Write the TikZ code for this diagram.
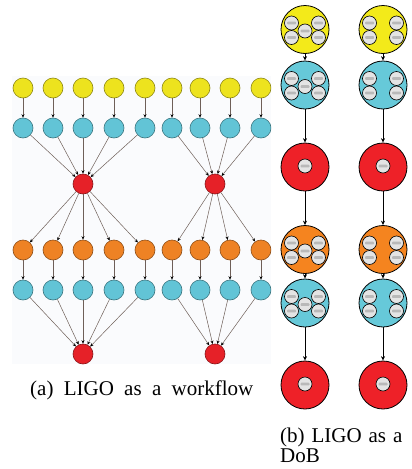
\documentclass[tikz,border=0pt]{standalone}
\usepackage{fontspec}
\setmainfont{Liberation Serif}
\usetikzlibrary{arrows.meta}
\definecolor{lbg}{HTML}{FAFBFD}
\definecolor{lyel}{HTML}{EDE31E}
\definecolor{lcyan}{HTML}{62C4D6}
\definecolor{lorange}{HTML}{EE8224}
\definecolor{lred}{HTML}{E62128}
\definecolor{ledgec}{HTML}{6E5F58}
\definecolor{ryel}{HTML}{F3EA1A}
\definecolor{rcyan}{HTML}{66C9D9}
\definecolor{rorange}{HTML}{F5841F}
\definecolor{rred}{HTML}{EE2128}
\definecolor{chipgray}{HTML}{E4E4E4}
\newcommand\dobchip[2]{%
  \draw[chipcircle] (#1,#2) circle[radius=7];
  \fill[gray!55, rounded corners=0.8pt] (#1-4.5,#2-1.3) rectangle (#1+4.5,#2+1.3);}
\begin{document}
\begin{tikzpicture}[x=1pt,y=-1pt,
  lnode/.style={circle, minimum size=20pt, inner sep=0pt, line width=0.6pt, fill=#1, draw=#1!60!black},
  ledge/.style={draw=ledgec, line width=0.5pt, -{Stealth[length=3.5pt,width=3pt,color=black]}},
  rnode/.style={circle, minimum size=48pt, inner sep=0pt, line width=0.8pt, fill=#1, draw=black},
  redge/.style={draw=black, line width=0.7pt, -{Stealth[length=4.5pt,width=4pt]}},
  chipcircle/.style={fill=chipgray, draw=black, line width=0.6pt},
  captext/.style={anchor=base west, inner sep=0pt, font=\fontsize{21}{21}\selectfont}]
\useasboundingbox (0,0) rectangle (412,469);

% ---------- (a) LIGO as a workflow ----------
\begin{scope}
\clip (12,76) rectangle (271,364);
\fill[lbg] (12,76) rectangle (271,364);
\foreach \i/\x in {1/23,2/53,3/83,4/114,5/145,6/172,7/200,8/230,9/261}{
  \node[lnode=lyel] (y\i) at (\x,88) {};
  \node[lnode=lcyan] (c\i) at (\x,128) {};
  \node[lnode=lorange] (o\i) at (\x,250) {};
  \node[lnode=lcyan] (d\i) at (\x,290) {};
}
\node[lnode=lred] (r1) at (83,184) {};
\node[lnode=lred] (r2) at (215,184) {};
\node[lnode=lred] (b1) at (83,354) {};
\node[lnode=lred] (b2) at (215,354) {};
\foreach \i in {1,...,9}{
  \draw[ledge] (y\i) -- (c\i);
  \draw[ledge] (o\i) -- (d\i);
}
\foreach \i in {1,...,5}{
  \draw[ledge] (c\i) -- (r1);
  \draw[ledge] (r1) -- (o\i);
  \draw[ledge] (d\i) -- (b1);
}
\foreach \i in {6,...,9}{
  \draw[ledge] (c\i) -- (r2);
  \draw[ledge] (r2) -- (o\i);
  \draw[ledge] (d\i) -- (b2);
}
\end{scope}
\node[captext] (capa) at (30,395.5) {\spaceskip=10.3pt (a) LIGO as a workflow};

% ---------- (b) LIGO as a DoB ----------
\foreach \k/\x in {1/305,2/383}{
  \node[rnode=ryel] (ty\k) at (\x,29.5) {};
  \node[rnode=rcyan] (tc\k) at (\x,85) {};
  \node[rnode=rred] (tr\k) at (\x,167) {};
  \node[rnode=rorange] (to\k) at (\x,249.5) {};
  \node[rnode=rcyan] (td\k) at (\x,303) {};
  \node[rnode=rred] (tb\k) at (\x,385) {};
  \draw[redge] (ty\k) -- (tc\k);
  \draw[redge] (tc\k) -- (tr\k);
  \draw[redge] (tr\k) -- (to\k);
  \draw[redge] (to\k) -- (td\k);
  \draw[redge] (td\k) -- (tb\k);
}
% chips, column 1 (five per multi node)
\foreach \y in {29.5,85,249.5,303}{
  \dobchip{305-13.5}{\y-6.5}
  \dobchip{305+13.5}{\y-6.5}
  \dobchip{305-13.5}{\y+8}
  \dobchip{305+13.5}{\y+8}
  \dobchip{305}{\y+1.5}
}
% chips, column 2 (four per multi node)
\foreach \y in {29.5,85,249.5,303}{
  \dobchip{383-13.5}{\y-6.5}
  \dobchip{383+13.5}{\y-6.5}
  \dobchip{383-13.5}{\y+8}
  \dobchip{383+13.5}{\y+8}
}
\foreach \x in {305,383}{
  \dobchip{\x}{166}
  \dobchip{\x}{384}
}
\node[captext] (capb1) at (280,442) {\spaceskip=6.9pt (b) LIGO as a};
\node[captext] (capb2) at (280,462) {DoB};
\end{tikzpicture}
\end{document}
